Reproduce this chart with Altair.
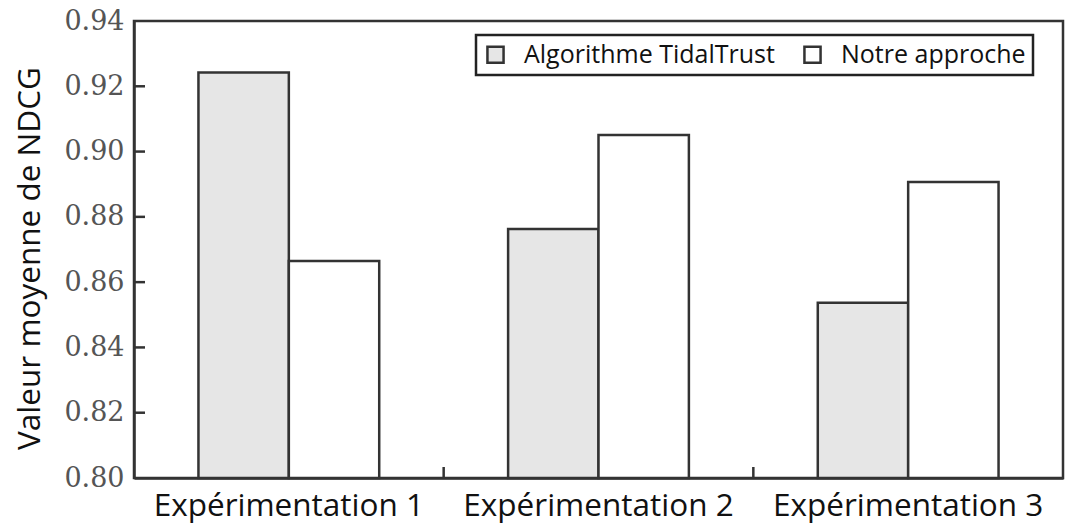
import altair as alt
import pandas as pd

categories = ["Expérimentation 1", "Expérimentation 2", "Expérimentation 3"]
series_names = ["Algorithme TidalTrust", "Notre approche"]
tidaltrust = [0.9242, 0.8763, 0.8537]
notre = [0.8665, 0.9051, 0.8907]
y_ticks = [0.80, 0.82, 0.84, 0.86, 0.88, 0.90, 0.92, 0.94]
inner_y_ticks = [0.82, 0.84, 0.86, 0.88, 0.90, 0.92]
boundary_cats = ["Expérimentation 1", "Expérimentation 2"]
y_base = 0.80

rows = []
for c, a, b in zip(categories, tidaltrust, notre):
    rows.append({"cat": c, "serie": series_names[0], "val": a})
    rows.append({"cat": c, "serie": series_names[1], "val": b})
df = pd.DataFrame(rows)

W, H = 929, 457
xscale = alt.Scale(domain=categories, paddingInner=0, paddingOuter=0)
yscale = alt.Scale(domain=[0.80, 0.94], nice=False, zero=False)

bars = alt.Chart(df).mark_bar(stroke="#333333", strokeWidth=2.5).encode(
    x=alt.X("cat:N", scale=xscale, sort=categories,
            axis=alt.Axis(title=None, labelAngle=0, tickSize=0, labelPadding=12,
                          labelFont="Open Sans", labelFontSize=31.5, labelColor="#111111",
                          domainColor="#333333", domainWidth=2.5, labelLimit=400)),
    xOffset=alt.XOffset("serie:N", sort=series_names,
                        scale=alt.Scale(domain=series_names, paddingOuter=0.713, paddingInner=0)),
    y=alt.Y("val:Q", scale=yscale,
            axis=alt.Axis(title="Valeur moyenne de NDCG", values=y_ticks, format=".2f",
                          tickSize=0, labelPadding=10, labelFont="DejaVu Serif",
                          labelFontSize=27, labelColor="#555555",
                          titleFont="Open Sans", titleFontSize=31.5, titleFontWeight="normal",
                          titleColor="#111111", titlePadding=17, titleY=237,
                          domainColor="#333333", domainWidth=2.5, grid=False)),
    y2=alt.datum(y_base),
    color=alt.Color("serie:N", sort=series_names,
                    scale=alt.Scale(domain=series_names, range=["#e6e6e6", "#ffffff"]),
                    legend=alt.Legend(title=None, orient="none", legendX=342, legendY=14,
                                      direction="horizontal", strokeColor="#222222",
                                      padding=7, columnPadding=24, labelFont="Open Sans",
                                      labelFontSize=25, labelColor="#111111",
                                      symbolType="square", symbolSize=260,
                                      symbolStrokeColor="#333333", symbolStrokeWidth=2.5,
                                      labelOffset=16, labelLimit=400, fillColor="white")),
)

ytick_df = pd.DataFrame({"v": inner_y_ticks})
yticks = alt.Chart(ytick_df).mark_rule(color="#333333", strokeWidth=2.5).encode(
    y=alt.Y("v:Q", scale=yscale),
    x=alt.value(0), x2=alt.value(11),
)

xtick_df = pd.DataFrame({"cat": boundary_cats})
xticks = alt.Chart(xtick_df).mark_rule(color="#333333", strokeWidth=2.5).encode(
    x=alt.X("cat:N", scale=xscale, bandPosition=1),
    y=alt.value(H), y2=alt.value(H - 11),
)

chart = alt.layer(bars, yticks, xticks).properties(
    width=W, height=H,
    autosize=alt.AutoSizeParams(type="none"),
    padding={"left": 126, "top": 13, "right": 20, "bottom": 46},
).configure_view(stroke="#333333", strokeWidth=2.5).configure_legend(strokeWidth=2.5)

chart.save("out.html", embed_options={"renderer": "svg", "actions": False})
